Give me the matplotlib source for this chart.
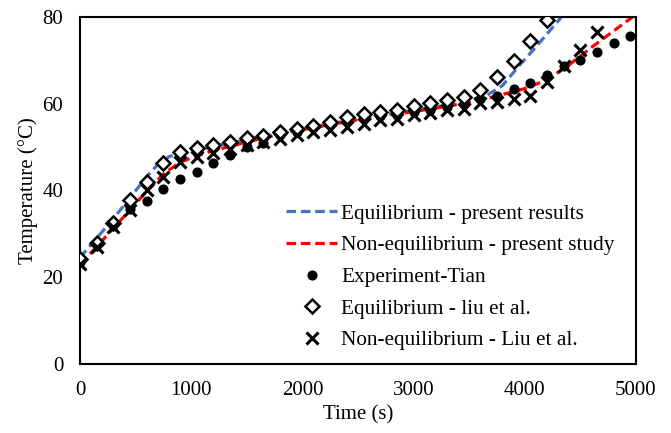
import matplotlib
matplotlib.use("Agg")
import matplotlib.pyplot as plt

plt.rcParams['font.family'] = ['Liberation Serif', 'DejaVu Serif']

# Present results (lines)
eq_t = [0, 150, 300, 450, 600, 700, 800, 900, 1050, 1200, 1400, 1600, 1800, 2000,
        2250, 2500, 2750, 3000, 3250, 3500, 3650, 3800, 3950, 4100, 4250, 4330]
eq_T = [24.5, 29.0, 33.5, 38.3, 43.2, 46.0, 47.8, 48.6, 49.4, 50.2, 51.2, 52.2, 53.2, 54.2,
        55.4, 56.5, 57.5, 58.5, 59.5, 60.6, 61.8, 64.2, 68.8, 73.1, 77.6, 80.0]

neq_t = [0, 150, 300, 450, 600, 750, 900, 1050, 1200, 1400, 1600, 1800, 2000,
         2250, 2500, 2750, 3000, 3250, 3500, 3750, 4000, 4200, 4400, 4600, 4800, 5000]
neq_T = [23.0, 27.0, 31.3, 35.5, 39.8, 43.8, 46.5, 48.0, 49.2, 50.5, 51.8, 53.0, 54.0,
         55.2, 56.3, 57.3, 58.2, 59.2, 60.3, 61.8, 63.5, 65.5, 69.0, 73.0, 76.8, 80.6]

# Experiment - Tian
tian_t = [0, 150, 300, 450, 600, 750, 900, 1050, 1200, 1350, 1500, 1650, 1800, 1950, 2100,
          2250, 2400, 2550, 2700, 2850, 3000, 3150, 3300, 3450, 3600, 3750, 3900, 4050,
          4200, 4350, 4500, 4650, 4800, 4950]
tian_T = [23.5, 28.0, 32.0, 35.8, 37.5, 40.3, 42.6, 44.3, 46.3, 48.2, 50.0, 51.0, 52.8, 53.6,
          54.7, 55.1, 56.1, 56.9, 57.2, 57.4, 58.2, 58.6, 59.3, 59.9, 61.2, 61.8, 63.3, 64.9,
          66.6, 68.6, 70.1, 72.0, 73.9, 75.6]

# Equilibrium - Liu et al.
liu_eq_t = [0, 150, 300, 450, 600, 750, 900, 1050, 1200, 1350, 1500, 1650, 1800, 1950, 2100,
            2250, 2400, 2550, 2700, 2850, 3000, 3150, 3300, 3450, 3600, 3750, 3900, 4050, 4200]
liu_eq_T = [24.2, 28.0, 32.5, 37.7, 42.0, 46.3, 48.9, 49.7, 50.5, 51.2, 52.0, 52.6, 53.4, 54.1,
            54.9, 55.9, 56.9, 57.6, 58.2, 58.6, 59.5, 60.1, 60.9, 61.5, 63.2, 66.2, 69.9, 74.5, 79.3]

# Non-equilibrium - Liu et al.
liu_neq_t = [0, 150, 300, 450, 600, 750, 900, 1050, 1200, 1350, 1500, 1650, 1800, 1950, 2100,
             2250, 2400, 2550, 2700, 2850, 3000, 3150, 3300, 3450, 3600, 3750, 3900, 4050,
             4200, 4350, 4500, 4650]
liu_neq_T = [23.0, 27.0, 31.5, 35.5, 40.1, 43.2, 46.6, 47.8, 48.6, 49.5, 50.5, 51.2, 51.8, 52.8,
             53.6, 54.0, 54.7, 55.3, 56.2, 56.6, 57.4, 57.8, 58.6, 58.9, 60.1, 60.5, 61.2, 61.8,
             65.1, 68.7, 72.5, 76.6]

fig = plt.figure(figsize=(6.71, 4.33), dpi=100)
ax = fig.add_axes([0.1192, 0.1594, 0.8286, 0.8013])

ax.plot(eq_t, eq_T, color='#4472C4', lw=2.3, dashes=(3.0, 1.5),
        label='Equilibrium - present results', zorder=2)
ax.plot(neq_t, neq_T, color='#FF0000', lw=2.3, dashes=(3.0, 1.5),
        label='Non-equilibrium - present study', zorder=2.1)
ax.plot(tian_t, tian_T, 'o', color='black', ms=6.3, ls='none',
        label='Experiment-Tian', zorder=3)
ax.plot(liu_eq_t, liu_eq_T, 'D', mfc='white', mec='black', mew=1.8, ms=7.3, ls='none',
        label='Equilibrium - liu et al.', zorder=3.1)
ax.plot(liu_neq_t, liu_neq_T, 'x', color='black', mew=2.2, ms=8.0, ls='none',
        label='Non-equilibrium - Liu et al.', zorder=3.2)

ax.set_xlim(0, 5000)
ax.set_ylim(0, 80)
ax.set_xticks([0, 1000, 2000, 3000, 4000, 5000])
ax.set_yticks([0, 20, 40, 60, 80])
ax.tick_params(axis='both', length=0, labelsize=15, colors='black')
ax.tick_params(axis='x', pad=12)
ax.tick_params(axis='y', pad=12)
for s in ax.spines.values():
    s.set_linewidth(1.5)
    s.set_color('black')

ax.set_xlabel('Time (s)', fontsize=15, labelpad=4)
ax.set_ylabel('Temperature (°C)', fontsize=15, labelpad=3)

leg = ax.legend(loc='lower right', bbox_to_anchor=(0.962, 0.04), frameon=False,
                fontsize=15.3, handlelength=2.4, handletextpad=0.2, labelspacing=0.55,
                borderaxespad=0.0, borderpad=0.0)

fig.savefig('out.png', dpi=100)
